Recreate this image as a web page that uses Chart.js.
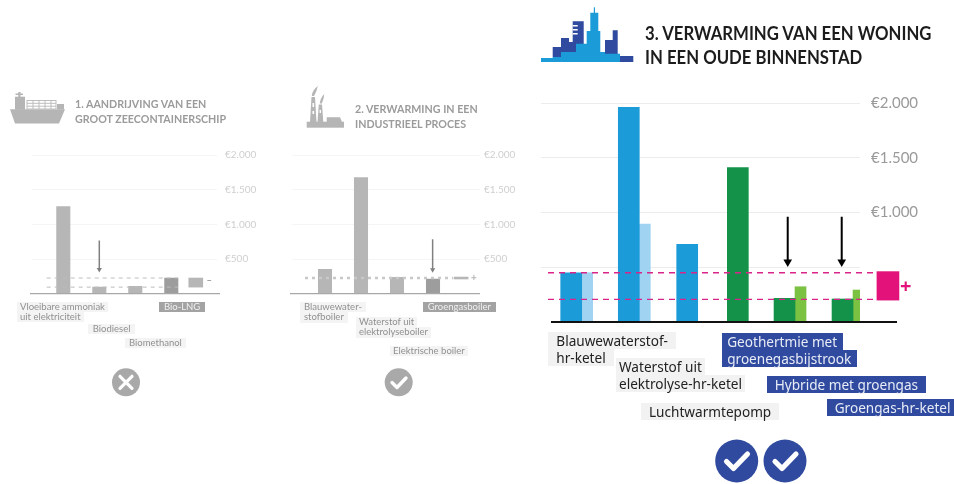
<!DOCTYPE html>
<html><head><meta charset="utf-8">
<script src="https://cdn.jsdelivr.net/npm/chart.js@4"></script>
<style>
html,body{margin:0;padding:0;background:#fff;width:954px;height:484px;overflow:hidden;font-family:"Noto Sans",sans-serif}
#stage{position:relative;width:954px;height:484px}
.layer{position:absolute;left:0;top:0;width:954px;height:484px}
.soft{filter:blur(.55px)}
.sharp{filter:blur(.3px)}
canvas{position:absolute}
.t{position:absolute;white-space:nowrap;font-family:Lato,sans-serif;font-weight:700;transform:scaleX(.93);transform-origin:left center}
.chip{position:absolute}
.chip span{display:table;white-space:nowrap}
.sign{position:absolute;font-weight:700}
svg{position:absolute;left:0;top:0}
</style></head><body>
<div id="stage">
<div class="layer soft" id="L"></div>
<div class="layer sharp" id="R"></div>
</div>
<script>
/* ---------- data ---------- */
const tickLabelsLeft = {500:'€500',1000:'€1.000',1500:'€1.500',2000:'€2.000'};
const tickLabelsRight = {1000:'€1.000',1500:'€1.500',2000:'€2.000'};

const ship_titles = ['1. AANDRIJVING VAN EEN','GROOT ZEECONTAINERSCHIP'];
const ship_categories = ['Vloeibare ammoniak\nuit elektriciteit','Biodiesel','Biomethanol','Bio-LNG'];
const ship_values = [1255,95,105,226];
const ship_range = [95,226];
const ship_refLines = [226,95];
const ship_arrow = [766,349];

const heat_titles = ['2. VERWARMING IN EEN','INDUSTRIEEL PROCES'];
const heat_categories = ['Blauwewater-\nstofboiler','Waterstof uit\nelektrolyseboiler','Elektrische boiler','Groengasboiler'];
const heat_values = [352,1674,237,212];
const heat_range = [212,240];
const heat_refLines = [225];
const heat_arrow = [785,345];

const home_titles = ['3. VERWARMING VAN EEN WONING','IN EEN OUDE BINNENSTAD'];
const home_categories = ['Blauwewaterstof-\nhr-ketel','Waterstof uit\nelektrolyse-hr-ketel','Luchtwarmtepomp','Geothertmie met\ngroenegasbijstrook','Hybride met groengas','Groengas-hr-ketel'];
const home_main = [450,1960,710,1410,216,210];
const home_light = [450,895,null,null,322,292];
const home_range = [200,460];
const home_refLines = [450,207];
const home_arrow = [962,548];

/* ---------- layout (page pixels and styling only) ---------- */
const GL = {
 ship:{canvas:[0,140,270,170],grid:[32,217],top:155,bottom:293.7,slot0:63.3,slotPx:36,slots:[0,1,2,3],rangeSlot:3.68,
   base:[30,220],dash:[46.7,178],arrowSlot:1,tick:{size:10,color:'#cfcfcf',pad:8},gridColor:'#f5f5f5',thick:13.4,rangeW:14,
   barColor:['#b6b6b6','#b6b6b6','#b6b6b6','#9d9d9d'],rangeColor:'#b6b6b6',dashColor:'#bdbdbd',dashW:1,dashPat:[4,4],baseColor:'#a8a8a8',baseW:1.2,arrowColor:'#808080',arrowW:1.5,headR:3},
 heat:{canvas:[280,140,250,170],grid:[291.7,480],top:155,bottom:293.7,slot0:325,slotPx:36,slots:[0,1,2,3],rangeSlot:3.78,
   base:[290,480],dash:[305,453],arrowSlot:2.99,tick:{size:10,color:'#cfcfcf',pad:4},gridColor:'#f5f5f5',thick:13.4,rangeW:14,
   barColor:['#b6b6b6','#b6b6b6','#b6b6b6','#9d9d9d'],rangeColor:'#b6b6b6',dashColor:'#c8c8c8',dashW:2.5,dashPat:[3,4],baseColor:'#a8a8a8',baseW:1.2,arrowColor:'#808080',arrowW:1.5,headR:3},
 home:{canvas:[530,90,424,240],grid:[541,860],top:103,bottom:322,slot0:581.7,slotPx:58,slots:[0,.993,2,2.873,3.678,4.678],rangeSlot:5.28,
   base:[551,897],dash:[548,875],arrowSlots:[3.552,4.483],tick:{size:15,color:'#9a9a9a',pad:11},gridColor:'#ececec',thick:21,lightThick:11,rangeW:22,
   barColor:['#1b9cd8','#1b9cd8','#1b9cd8','#15924a','#15924a','#15924a'],lightColor:['#9fd3f1','#9fd3f1','#9fd3f1','#7bc142','#7bc142','#7bc142'],rangeColor:'#e2127a',dashColor:'#d9258a',dashW:1.4,dashPat:[6,5],baseColor:'#111',baseW:2,arrowColor:'#000',arrowW:2,headR:5}
};

function toSlot(g,px){return (px-g.slot0)/g.slotPx;}
function refLineDataset(g,v){return {type:'line',data:[{x:toSlot(g,g.dash[0]),y:v},{x:toSlot(g,g.dash[1]),y:v}],
  borderColor:g.dashColor,borderWidth:g.dashW,borderDash:g.dashPat,pointRadius:0,clip:false,order:0};}
function baseDataset(g){return {type:'line',data:[{x:toSlot(g,g.base[0]),y:0},{x:toSlot(g,g.base[1]),y:0}],
  borderColor:g.baseColor,borderWidth:g.baseW,pointRadius:0,clip:false,order:1};}
function arrowDataset(g,slot,arrow){return {type:'line',data:[{x:slot,y:arrow[0]},{x:slot,y:arrow[1]}],
  borderColor:g.arrowColor,backgroundColor:g.arrowColor,borderWidth:g.arrowW,clip:false,order:0,
  pointStyle:'triangle',pointRotation:180,pointBorderWidth:0,pointRadius:c=>c.dataIndex===1?g.headR:0};}

function makeChart(host,g,labels,datasets){
  const c=document.createElement('canvas');
  const [x,y,w,h]=g.canvas;
  c.width=w;c.height=h;c.style.cssText=`left:${x}px;top:${y}px;width:${w}px;height:${h}px`;
  host.appendChild(c);
  new Chart(c,{type:'bar',data:{datasets},options:{
    responsive:false,animation:false,devicePixelRatio:1,
    layout:{padding:{left:g.grid[0]-x,top:g.top-y,bottom:y+h-g.bottom,right:0}},
    plugins:{legend:{display:false},tooltip:{enabled:false}},
    scales:{
      x:{type:'linear',display:false,offset:false,min:toSlot(g,g.grid[0]),max:toSlot(g,g.grid[1])},
      y:{position:'right',min:0,max:2000,
         afterFit:s=>{s.width=x+w-g.grid[1];s.paddingTop=0;s.paddingBottom=0;},
         border:{display:false},
         grid:{drawTicks:false,color:k=>k.tick.value===0?'transparent':g.gridColor,lineWidth:1},
         ticks:{stepSize:500,padding:g.tick.pad,crossAlign:'near',color:g.tick.color,
                font:{family:'Lato',size:g.tick.size},
                callback:v=>labels[v]||''}}
    }}});
}

/* panel 1 */
const sg=GL.ship;
makeChart(document.getElementById('L'),sg,tickLabelsLeft,[
  baseDataset(sg),
  ...ship_refLines.map(v=>refLineDataset(sg,v)),
  arrowDataset(sg,sg.arrowSlot,ship_arrow),
  {grouped:false,barThickness:sg.thick,backgroundColor:sg.barColor,order:2,data:ship_values.map((v,i)=>({x:sg.slots[i],y:v}))},
  {grouped:false,barThickness:sg.rangeW,backgroundColor:sg.rangeColor,order:2,clip:false,data:[{x:sg.rangeSlot,y:ship_range}]}
]);
/* panel 2 */
const hg=GL.heat;
makeChart(document.getElementById('L'),hg,tickLabelsLeft,[
  baseDataset(hg),
  ...heat_refLines.map(v=>refLineDataset(hg,v)),
  arrowDataset(hg,hg.arrowSlot,heat_arrow),
  {grouped:false,barThickness:hg.thick,backgroundColor:hg.barColor,order:2,data:heat_values.map((v,i)=>({x:hg.slots[i],y:v}))},
  {grouped:false,barThickness:hg.rangeW,backgroundColor:hg.rangeColor,order:2,clip:false,data:[{x:hg.rangeSlot,y:heat_range}]}
]);
/* panel 3 */
const og=GL.home;
makeChart(document.getElementById('R'),og,tickLabelsRight,[
  baseDataset(og),
  ...home_refLines.map(v=>refLineDataset(og,v)),
  ...og.arrowSlots.map(s=>arrowDataset(og,s,home_arrow)),
  {barThickness:og.thick,backgroundColor:og.barColor,order:2,data:home_main.map((v,i)=>({x:og.slots[i],y:v}))},
  {barThickness:og.lightThick,backgroundColor:og.lightColor,order:2,data:home_light.map((v,i)=>({x:og.slots[i],y:v}))},
  {grouped:false,barThickness:og.rangeW,backgroundColor:og.rangeColor,order:2,clip:false,data:[{x:og.rangeSlot,y:home_range}]}
]);

/* ---------- text overlays ---------- */
function title(host,lines,x,ys,size,color,ls){
  lines.forEach((s,i)=>{const d=document.createElement('div');d.className='t';d.textContent=s;
    d.style.cssText=`left:${x}px;top:${ys[i]}px;font-size:${size}px;line-height:${size}px;color:${color};letter-spacing:${ls}px`;
    host.appendChild(d);});
}
function chip(host,text,x,y,padL,padR,lh,size,bg,fg,font){
  const d=document.createElement('div');d.className='chip';d.style.cssText=`left:${x}px;top:${y}px;font-size:${size}px;line-height:${lh}px;color:${fg};font-family:${font}`;
  text.split('\n').forEach(l=>{const s=document.createElement('span');s.textContent=l;
    s.style.cssText=`padding:0 ${padR}px 0 ${padL}px;background:${bg}`;d.appendChild(s);});
  host.appendChild(d);
}
const L=document.getElementById('L'),R=document.getElementById('R');
title(L,ship_titles,75,[98.3,113.3],11.5,'#9b9b9b',0);
title(L,heat_titles,354.7,[103.3,118],11.5,'#9b9b9b',0);
title(R,home_titles,645,[24.3,47.7],18,'#1c1c1c',0);

const shipChips=[[17,301.7,3],[87.7,324,5],[125,338,4],[159,301.7,5]];
ship_categories.forEach((t,i)=>{const [x,y,p]=shipChips[i];const dark=i===3;
  chip(L,t,x,y,p,p,10,9.5,dark?'#a3a3a3':'#f4f4f4',dark?'#f0f0f0':'#909090','Lato');});
const heatChips=[[300,301.7,4],[356,317,3],[390,345.7,3],[422.7,301.7,5]];
heat_categories.forEach((t,i)=>{const [x,y,p]=heatChips[i];const dark=i===3;
  chip(L,t,x,y,p,p,10.4,9.5,dark?'#a3a3a3':'#f4f4f4',dark?'#f0f0f0':'#909090','Lato');});
const homeChips=[[548.3,331.7,8],[616,358.3,3],[641,403.3,8],[721.7,333.3,5.5],[766.7,375.7,8],[826.7,399.3,8]];
home_categories.forEach((t,i)=>{const [x,y,p]=homeChips[i];const dark=i>=3;
  chip(R,t,x,y,p,p,17,13.6,dark?'#2f4a9f':'#f2f2f2',dark?'#e8ecf6':'#222','"Noto Sans"');});

function sign(host,s,x,y,size,color){const d=document.createElement('div');d.className='sign';d.textContent=s;
  d.style.cssText=`left:${x}px;top:${y}px;font-size:${size}px;line-height:${size}px;color:${color}`;host.appendChild(d);}
sign(L,'–',207,275,9,'#a5a5a5');
sign(L,'+',471,272,10,'#bdbdbd');
sign(R,'+',900,276,20,'#e2127a');

/* ---------- icons ---------- */
const ns='http://www.w3.org/2000/svg';
function icons(host,markup){const s=document.createElementNS(ns,'svg');s.setAttribute('width',954);s.setAttribute('height',484);s.innerHTML=markup;host.appendChild(s);}
icons(L,`
<g fill="#b5b5b5">
 <polygon points="10,109.3 65,109.3 59,123.5 15,123.5"/>
 <rect x="15" y="96.7" width="10" height="13"/><rect x="18.3" y="92" width="2.2" height="5"/><rect x="15.5" y="93.5" width="7.5" height="1.5"/>
 <rect x="57" y="104" width="7" height="5.5"/>
</g>
<g fill="none" stroke="#bdbdbd" stroke-width="1"><rect x="27" y="100.5" width="29" height="8.5"/>
 <path d="M27 103.3H56M27 106.2H56M33 100.5V109M39 100.5V109M45 100.5V109M51 100.5V109"/></g>
<g fill="#b5b5b5">
 <rect x="306.7" y="121.7" width="37.3" height="6"/>
 <polygon points="310,122 311.5,97 315,97 316.5,122"/>
 <polygon points="317.5,122 318.8,104.5 322,104.5 323.3,122"/>
 <polygon points="326.7,122 326.7,117.3 340,117.3 342,122"/>
 <path d="M311.8 96C312 92 314 89 317.8 86C317 90 315.5 93 314 96Z"/>
 <path d="M319.8 103.5C320 100 321.5 97 324.2 94C324 98 323 100.5 321.8 103.5Z"/>
</g>
<g fill="#fff"><rect x="312.5" y="103" width="1.6" height="4"/><rect x="312.5" y="111" width="1.6" height="3"/><rect x="319.6" y="110" width="1.4" height="3"/></g>
<circle cx="126" cy="382.3" r="14" fill="#a9a9a9"/>
<path d="M120 376.3L132 388.3M132 376.3L120 388.3" stroke="#fff" stroke-width="3.2" stroke-linecap="round"/>
<circle cx="398.7" cy="382.3" r="14" fill="#a9a9a9"/>
<path d="M392 382.5L397 387.5L406 378" fill="none" stroke="#fff" stroke-width="3.4" stroke-linecap="round" stroke-linejoin="round"/>
`);
icons(R,`
<polygon fill="#2f4a9f" points="552.7,57 552.7,47 561,47 561,38 569,38 569,42 572.7,42 572.7,21.3 583.7,21.3 583.7,44 576,44 576,52 561,52 561,57"/>
<polygon fill="#2f4a9f" points="601,52 605,52 605,40 612.7,40 612.7,30.3 617.7,30.3 617.7,54 601,54"/>
<rect fill="#2f4a9f" x="620" y="56" width="13.3" height="6"/>
<g fill="#fff"><rect x="572.7" y="25" width="5" height="1.5"/><rect x="572.7" y="29" width="5" height="1.5"/><rect x="572.7" y="33" width="5" height="1.5"/></g>
<polygon fill="#1b9cd8" points="541,62 541,58 552.7,58 552.7,57 561,57 561,52 576,52 576,43.7 586.7,43.7 586.7,31 590.3,31 590.3,12.7 598.3,12.7 598.3,31 600.3,31 600.3,52 605,52 605,53.7 620,53.7 620,62"/>
<rect fill="#1b9cd8" x="593.8" y="7.3" width="1.2" height="6"/>
<g fill="#2f4a9f"><circle cx="736.7" cy="461" r="21.5"/><circle cx="785" cy="461" r="21.5"/></g>
<g fill="none" stroke="#fff" stroke-width="5.2" stroke-linecap="round" stroke-linejoin="round">
 <path d="M726.5 461.5L733.5 468.5L747.5 454"/><path d="M775 461.5L782 468.5L796 454"/></g>
`);
</script>
</body></html>
